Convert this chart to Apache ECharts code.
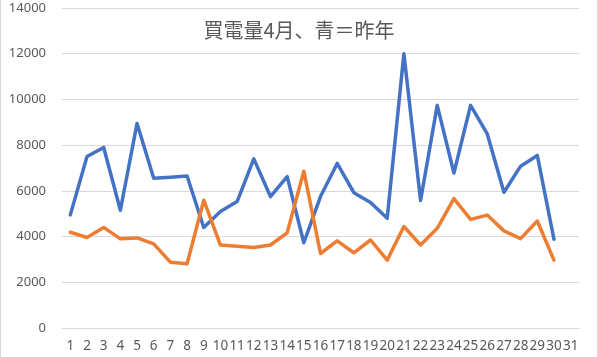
<!DOCTYPE html>
<html>
<head>
<meta charset="utf-8">
<script src="https://cdn.jsdelivr.net/npm/echarts@6/dist/echarts.min.js"></script>
<style>
html,body{margin:0;padding:0;background:#fff;}
#chart{width:598px;height:357px;}
</style>
</head>
<body>
<div id="chart"></div>
<script>
var days = ['1','2','3','4','5','6','7','8','9','10','11','12','13','14','15','16','17','18','19','20','21','22','23','24','25','26','27','28','29','30','31'];
var lastYear = [4950,7500,7900,5150,8950,6550,6600,6650,4400,5100,5530,7400,5750,6620,3730,5750,7200,5920,5490,4800,12000,5580,9740,6780,9740,8490,5940,7080,7550,3880];
var thisYear = [4190,3960,4400,3900,3940,3680,2880,2810,5590,3630,3580,3520,3630,4160,6860,3260,3810,3290,3850,2970,4440,3630,4360,5660,4750,4940,4250,3910,4680,2970];
var yTicks = {min:0, max:14000, interval:2000};
var titleText = '買電量4月、青＝昨年';

var chart = echarts.init(document.getElementById('chart'), null, {renderer:'canvas'});
var font = '"Noto Sans CJK JP", "Noto Sans", sans-serif';
chart.setOption({
  animation:false,
  backgroundColor:'#ffffff',
  title:{
    text:titleText, left:'center', top:15,
    textStyle:{fontFamily:font, fontSize:20, fontWeight:'normal', color:'#595959'}
  },
  grid:{left:62, right:19, top:8, bottom:29, containLabel:false},
  xAxis:{
    type:'category', data:days, boundaryGap:true,
    axisLine:{show:true, lineStyle:{color:'#d9d9d9'}},
    axisTick:{show:false},
    axisLabel:{interval:0, margin:11, color:'#595959', fontSize:13.5, fontFamily:'"Noto Sans", sans-serif'}
  },
  yAxis:{
    type:'value', min:yTicks.min, max:yTicks.max, interval:yTicks.interval,
    axisLine:{show:false}, axisTick:{show:false},
    splitLine:{lineStyle:{color:'#d9d9d9', width:1}},
    axisLabel:{margin:16, color:'#595959', fontSize:13, fontFamily:'"Noto Sans", sans-serif',
      formatter:function(v){return String(v);}}
  },
  graphic:[
    {type:'line', shape:{x1:0.5,y1:0,x2:0.5,y2:357}, style:{stroke:'#d9d9d9', lineWidth:1}},
    {type:'line', shape:{x1:597.5,y1:0,x2:597.5,y2:357}, style:{stroke:'#d9d9d9', lineWidth:1}}
  ],
  series:[
    {name:'昨年', type:'line', data:lastYear, showSymbol:false, symbol:'none',
     lineStyle:{color:'#4472C4', width:3.5, join:'round', cap:'round'}, itemStyle:{color:'#4472C4'}},
    {name:'今年', type:'line', data:thisYear, showSymbol:false, symbol:'none',
     lineStyle:{color:'#ED7D31', width:3.5, join:'round', cap:'round'}, itemStyle:{color:'#ED7D31'}}
  ]
});
</script>
</body>
</html>
